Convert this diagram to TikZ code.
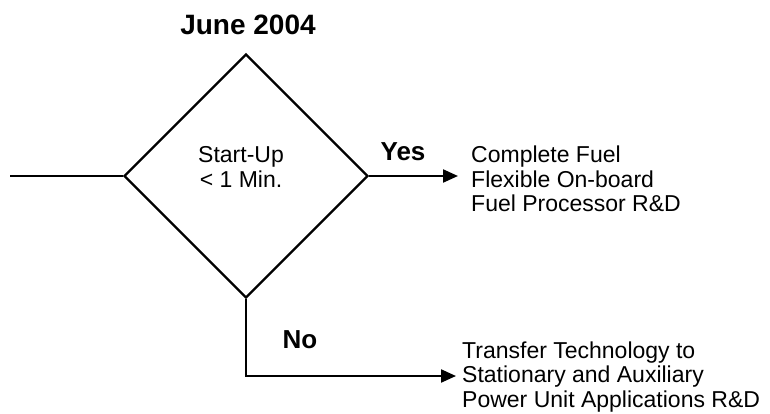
\documentclass[tikz,border=0pt]{standalone}
\usepackage{fontspec}
\setmainfont{Liberation Sans}
\usetikzlibrary{arrows.meta,shapes.geometric}

\tikzset{
  flow/.style={line width=2.2pt},
  tip/.style={-{Triangle[length=15pt,width=13pt]}},
  head/.style={font=\bfseries\fontsize{28}{30}\selectfont},
  plain/.style={font=\fontsize{23}{24.5}\selectfont,inner sep=0pt},
}

\begin{document}
\begin{tikzpicture}[x=1pt,y=-1pt]
  \useasboundingbox (0,0) rectangle (770,414);

  \node[head] (date) at (248,25) {June 2004};

  \node[draw,flow,diamond,minimum width=244pt,minimum height=244pt,inner sep=0pt]
    (dec) at (246,176) {};
  \node[plain,align=center] (crit) at (241,167) {Start-Up\\< 1 Min.};

  \coordinate (in) at (10,176);
  \coordinate (yesend) at (458,176);
  \coordinate (noend) at (456,376);

  \draw[flow] (in) -- (dec.west);
  \draw[flow,tip] (dec.east) -- (yesend);
  \draw[flow,tip] (dec.south) |- (noend);

  \node[head,font=\bfseries\fontsize{26}{28}\selectfont] (yes) at (403,152) {Yes};
  \node[head,font=\bfseries\fontsize{26}{28}\selectfont] (no) at (300,340) {No};

  \node[plain,align=left,anchor=west] (fuel) at (471,179)
    {Complete Fuel\\Flexible On-board\\Fuel Processor R\&D};
  \node[plain,align=left,anchor=west] (xfer) at (462,377)
    {Transfer Technology to\\Stationary and Auxiliary\\Power Unit Applications R\&D};
\end{tikzpicture}
\end{document}
